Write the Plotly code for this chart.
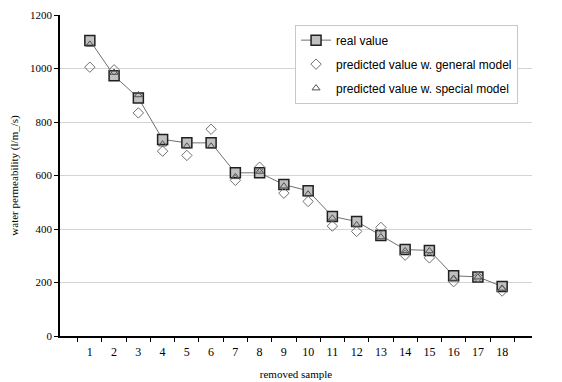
import plotly.graph_objects as go

samples = [str(i) for i in range(1, 19)]
real_value = [1105, 973, 890, 735, 722, 722, 610, 610, 566, 543, 447, 428, 376, 323, 320, 225, 221, 185]
general_model = [1005, 995, 834, 691, 675, 773, 582, 631, 534, 503, 411, 391, 406, 302, 292, 203, 220, 168]
special_model = [1090, 985, 901, 717, 709, 709, 595, 615, 560, 530, 440, 415, 370, 318, 318, 215, 220, 178]

fig = go.Figure()
fig.add_trace(go.Scatter(
    x=samples, y=real_value, name="real value", mode="lines+markers", legendgroup="a",
    line=dict(color="#707070", width=1),
    marker=dict(symbol="square", size=10, color="#c0c0c0", line=dict(color="#202020", width=1.5)),
))
fig.add_trace(go.Scatter(
    x=samples, y=general_model, name="predicted value w. general model", mode="markers", legendgroup="b",
    marker=dict(symbol="diamond-open", size=8, color="#707070", line=dict(width=1)),
))
fig.add_trace(go.Scatter(
    x=samples, y=special_model, name="predicted value w. special model", mode="markers", legendgroup="c",
    marker=dict(symbol="triangle-up-open", size=7, color="#505050", line=dict(width=1)),
))

serif = "Liberation Serif"
sans = "Liberation Sans"
fig.update_layout(
    width=562, height=382,
    margin=dict(l=52, r=38, t=7, b=54),
    paper_bgcolor="white", plot_bgcolor="white",
    font=dict(family=serif, size=11, color="black"),
    showlegend=True,
    legend=dict(
        x=0.498, y=0.97, xanchor="left", yanchor="top",
        bgcolor="white", bordercolor="#c8c8c8", borderwidth=1,
        font=dict(family=sans, size=12, color="black"),
        tracegroupgap=5,
    ),
    xaxis=dict(
        type="category", tickson="boundaries", ticks="outside", ticklen=4,
        tickcolor="black", showline=True, linecolor="black", linewidth=1.5,
        showgrid=False, automargin=False, ticklabelstandoff=4,
        title=dict(text="removed sample", standoff=12, font=dict(family=serif, size=11)),
        tickfont=dict(family=serif, size=12),
    ),
    yaxis=dict(
        range=[0, 1200], dtick=200, ticks="outside", ticklen=4, tickcolor="black",
        showline=True, linecolor="black", linewidth=1.5,
        showgrid=True, gridcolor="#d4d4d4", gridwidth=1, zeroline=False,
        automargin=False,
        title=dict(text="water permeability (l/m_/s)", standoff=10, font=dict(family=serif, size=11)),
        tickfont=dict(family=serif, size=11),
    ),
)

fig.write_html("out.html")
